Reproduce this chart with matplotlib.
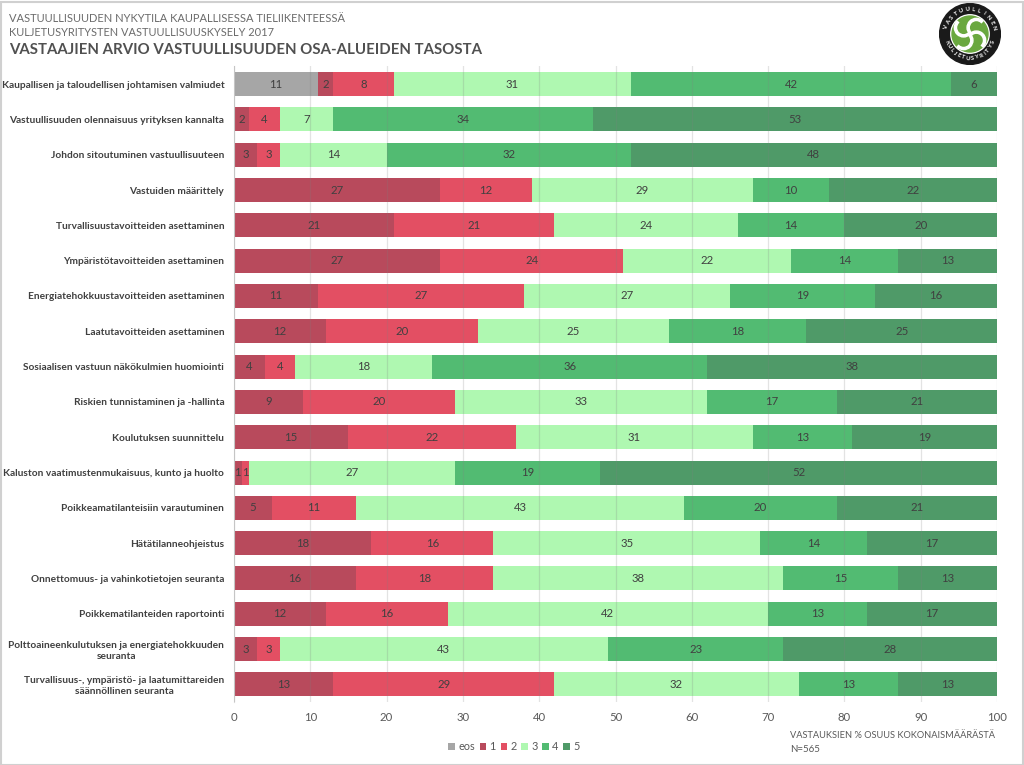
import numpy as np
import matplotlib
matplotlib.use('Agg')
import matplotlib.pyplot as plt
from matplotlib.patches import Circle, Rectangle, Wedge

W, H = 1024, 765

plt.rcParams['font.family'] = ['Lato', 'DejaVu Sans']

# Data
categories = [
    'Kaupallisen ja taloudellisen johtamisen valmiudet',
    'Vastuullisuuden olennaisuus yrityksen kannalta',
    'Johdon sitoutuminen vastuullisuuteen',
    'Vastuiden määrittely',
    'Turvallisuustavoitteiden asettaminen',
    'Ympäristötavoitteiden asettaminen',
    'Energiatehokkuustavoitteiden asettaminen',
    'Laatutavoitteiden asettaminen',
    'Sosiaalisen vastuun näkökulmien huomiointi',
    'Riskien tunnistaminen ja -hallinta',
    'Koulutuksen suunnittelu',
    'Kaluston vaatimustenmukaisuus, kunto ja huolto',
    'Poikkeamatilanteisiin varautuminen',
    'Hätätilanneohjeistus',
    'Onnettomuus- ja vahinkotietojen seuranta',
    'Poikkematilanteiden raportointi',
    'Polttoaineenkulutuksen ja energiatehokkuuden\nseuranta',
    'Turvallisuus-, ympäristö- ja laatumittareiden\nsäännöllinen seuranta',
]
eos = [11, 0, 0, 0, 0, 0, 0, 0, 0, 0, 0, 0, 0, 0, 0, 0, 0, 0]
s1 = [2, 2, 3, 27, 21, 27, 11, 12, 4, 9, 15, 1, 5, 18, 16, 12, 3, 13]
s2 = [8, 4, 3, 12, 21, 24, 27, 20, 4, 20, 22, 1, 11, 16, 18, 16, 3, 29]
s3 = [31, 7, 14, 29, 24, 22, 27, 25, 18, 33, 31, 27, 43, 35, 38, 42, 43, 32]
s4 = [42, 34, 32, 10, 14, 14, 19, 18, 36, 17, 13, 19, 20, 14, 15, 13, 23, 13]
s5 = [6, 53, 48, 22, 20, 13, 16, 25, 38, 21, 19, 52, 21, 17, 13, 17, 28, 13]
series_names = ['eos', '1', '2', '3', '4', '5']
x_ticks = [0, 10, 20, 30, 40, 50, 60, 70, 80, 90, 100]

series = [eos, s1, s2, s3, s4, s5]
colors = ['#a6a6a6', '#b84a5c', '#e34f63', '#aff8b1', '#52bb72', '#4f9a68']
text_color = '#595959'

fig = plt.figure(figsize=(W / 100, H / 100), dpi=100)
fig.patch.set_facecolor('white')
fig.add_artist(Rectangle((0.5 / W, 0.5 / H), 1 - 2 / W, 1 - 2 / H, transform=fig.transFigure,
                         fill=False, ec='#d0d0d0', lw=1.5))

ax = fig.add_axes([234 / W, 1 - 702 / H, (997 - 234) / W, (702 - 66.5) / H])
y = np.arange(len(categories))
left = np.zeros(len(categories))
for name, vals, c in zip(series_names, series, colors):
    vals = np.array(vals)
    ax.barh(y, vals, left=left, height=0.68, color=c, label=name, zorder=2)
    for yi, l, v in zip(y, left, vals):
        if v > 0:
            ax.text(l + v / 2, yi, str(v), ha='center', va='center', fontsize=8.2,
                    color='#404040', zorder=4)
    left += vals

ax.set_xlim(0, 100)
ax.set_ylim(len(categories) - 0.5, -0.5)
ax.set_xticks(x_ticks)
ax.set_yticks(y)
ax.set_yticklabels(categories, fontsize=7.25, color='#404040', fontweight='bold',
                   multialignment='center', linespacing=1.25)
ax.tick_params(axis='y', length=0, pad=7)
ax.tick_params(axis='x', length=0, pad=7, labelsize=8.2, labelcolor=text_color)
ax.grid(axis='x', color='#808080', alpha=0.22, lw=0.9, zorder=3)
ax.set_axisbelow(False)
for sp in ['top', 'right', 'bottom']:
    ax.spines[sp].set_visible(False)
ax.spines['left'].set_color('#d9d9d9')

# Titles
fig.text(9 / W, 1 - 18 / H, 'VASTUULLISUUDEN NYKYTILA KAUPALLISESSA TIELIIKENTEESSÄ',
         fontsize=8.05, color='#6b6b6b', va='center')
fig.text(9 / W, 1 - 32 / H, 'KULJETUSYRITYSTEN VASTUULLISUUSKYSELY 2017',
         fontsize=7.92, color='#6b6b6b', va='center')
fig.text(9 / W, 1 - 50 / H, 'VASTAAJIEN ARVIO VASTUULLISUUDEN OSA-ALUEIDEN TASOSTA',
         fontsize=10.85, color='#505050', fontweight='bold', va='center')

# Note
fig.text(790 / W, 1 - 735 / H, 'VASTAUKSIEN % OSUUS KOKONAISMÄÄRÄSTÄ',
         fontsize=6.65, color=text_color, va='center')
fig.text(790 / W, 1 - 749 / H, 'N=565', fontsize=7, color=text_color, va='center')

# Legend
handles, labels = ax.get_legend_handles_labels()
fig.legend(handles, labels, loc='center', bbox_to_anchor=(514 / W, 1 - 747 / H), ncol=6, frameon=False,
           fontsize=7.8, labelcolor=text_color, handlelength=0.6, handleheight=0.6,
           handletextpad=0.3, columnspacing=0.45, borderpad=0)

# Logo
logo = fig.add_axes([939 / W, 1 - 65 / H, 62 / W, 62 / H])
logo.set_xlim(-1, 1)
logo.set_ylim(-1, 1)
logo.set_aspect('equal')
logo.axis('off')
logo.add_patch(Circle((0, 0), 0.98, color='#1a1a1a'))
logo.add_patch(Circle((0, 0), 0.62, color='white'))
logo.add_patch(Circle((0, 0), 0.58, color='#6aa83f'))
for a in [0, 90, 180, 270]:
    r = np.radians(a + 45)
    cx, cy = 0.29 * np.cos(r), 0.29 * np.sin(r)
    logo.add_patch(Wedge((cx, cy), 0.3, a + 45, a + 225, width=0.07, color='white'))


def ring_text(txt, start, end, radius, flip):
    for ch, ang in zip(txt, np.linspace(start, end, len(txt))):
        r = np.radians(ang)
        rot = ang + 90 if flip else ang - 90
        logo.text(radius * np.cos(r), radius * np.sin(r), ch, color='white', fontsize=4.2,
                  fontweight='bold', ha='center', va='center', rotation=rot)


ring_text('VASTUULLINEN', 165, 15, 0.79, False)
ring_text('KULJETUSYRITYS', 200, 340, 0.79, True)

fig.savefig('out.png', dpi=100)
